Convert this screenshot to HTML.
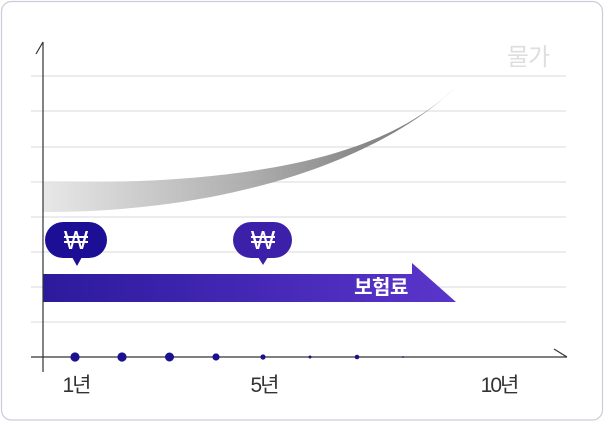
<!DOCTYPE html>
<html>
<head>
<meta charset="utf-8">
<style>
  html, body { margin:0; padding:0; background:#ffffff; }
  body { width:605px; height:422px; overflow:hidden; }
  svg { display:block; }
  text { font-family: "Liberation Sans", "Noto Sans CJK KR", sans-serif; }
</style>
</head>
<body>
<svg width="605" height="422" viewBox="0 0 605 422" xmlns="http://www.w3.org/2000/svg">
  <defs>
    <linearGradient id="gray" x1="43" y1="0" x2="455" y2="0" gradientUnits="userSpaceOnUse">
      <stop offset="0" stop-color="#e6e6e6"/>
      <stop offset="0.5" stop-color="#a8a8a8"/>
      <stop offset="0.75" stop-color="#838383"/>
      <stop offset="1" stop-color="#6a6a6a"/>
    </linearGradient>
    <linearGradient id="blue" x1="43" y1="0" x2="455" y2="0" gradientUnits="userSpaceOnUse">
      <stop offset="0" stop-color="#2c1a9c"/>
      <stop offset="1" stop-color="#5b35cb"/>
    </linearGradient>
  </defs>

  <!-- card -->
  <rect x="1.5" y="1.5" width="601" height="418.5" rx="10" ry="10" fill="#ffffff" stroke="#c9cdd9" stroke-width="1.2"/>

  <!-- gridlines -->
  <g stroke="#e0e0e0" stroke-width="1.3">
    <line x1="31" y1="76" x2="566" y2="76"/>
    <line x1="31" y1="111" x2="566" y2="111"/>
    <line x1="31" y1="147" x2="566" y2="147"/>
    <line x1="31" y1="182" x2="566" y2="182"/>
    <line x1="31" y1="217" x2="566" y2="217"/>
    <line x1="31" y1="252" x2="566" y2="252"/>
    <line x1="31" y1="287" x2="566" y2="287"/>
    <line x1="31" y1="322" x2="566" y2="322"/>
  </g>

  <!-- label 물가 -->
  <text x="528" y="65" font-size="24" fill="#dedede" text-anchor="middle" letter-spacing="-1">물가</text>

  <!-- gray inflation curve -->
  <path d="M43,182 C300,186 400,140 455,88 C390,150 250,212 43,212 Z" fill="url(#gray)" opacity="0.93"/>

  <!-- blue arrow -->
  <polygon points="43,274 412,274 412,263 456,302 43,302" fill="url(#blue)"/>
  <text x="381" y="294" font-size="20" font-weight="bold" fill="#ffffff" text-anchor="middle" letter-spacing="-0.5">보험료</text>

  <!-- bubbles -->
  <g>
    <rect x="45" y="222" width="62" height="36" rx="18" ry="18" fill="#1c0f96"/>
    <polygon points="72,257 82,257 77,266" fill="#1c0f96"/>
    <text x="76" y="249" font-size="26" fill="#ffffff" text-anchor="middle">₩</text>
  </g>
  <g>
    <rect x="233" y="222" width="59" height="36" rx="18" ry="18" fill="#3d20a9"/>
    <polygon points="258,257 268,257 263,265" fill="#3d20a9"/>
    <text x="263" y="249" font-size="26" fill="#ffffff" text-anchor="middle">₩</text>
  </g>

  <!-- axes -->
  <g stroke="#333333" stroke-width="1.2" fill="none">
    <line x1="43" y1="42" x2="43" y2="372"/>
    <line x1="43" y1="42" x2="36" y2="54"/>
    <line x1="31" y1="357" x2="567" y2="357"/>
    <line x1="554" y1="349" x2="567" y2="357"/>
  </g>

  <!-- dots -->
  <g fill="#1a1090">
    <circle cx="75" cy="357" r="4.6"/>
    <circle cx="122" cy="357" r="4.6"/>
    <circle cx="169.5" cy="357" r="4.5"/>
    <circle cx="216" cy="357" r="3.6"/>
    <circle cx="263" cy="357" r="2.6"/>
    <circle cx="310" cy="357" r="1.5"/>
    <circle cx="357" cy="357" r="2.3"/>
    <circle cx="403" cy="357" r="0.9"/>
  </g>

  <!-- x labels -->
  <g font-size="21" fill="#333333" text-anchor="middle" letter-spacing="-2">
    <text x="76" y="392">1년</text>
    <text x="264" y="392">5년</text>
    <text x="499" y="392">10년</text>
  </g>
</svg>
</body>
</html>
